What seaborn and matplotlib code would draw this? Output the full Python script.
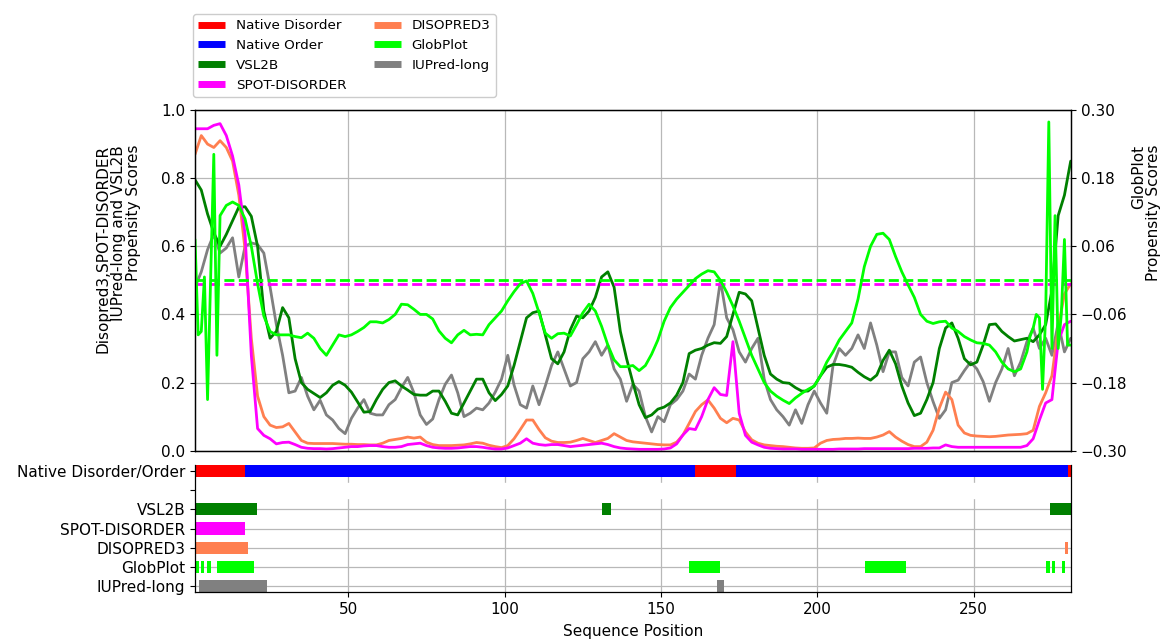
import matplotlib
matplotlib.use("Agg")
import matplotlib.pyplot as plt
from matplotlib.lines import Line2D
from matplotlib.ticker import FuncFormatter
import seaborn as sns

# ---------------- data ----------------
positions = list(range(1, 282, 2))

vsl2b = [
    .795, .765, .695, .64, .60, .635, .675, .715, .716, .688,
    .60, .41, .33, .35, .42, .39, .27, .20, .18, .168,
    .156, .17, .192, .203, .192, .172, .143, .113, .115, .15,
    .18, .20, .205, .19, .178, .165, .163, .163, .175, .175,
    .145, .11, .105, .14, .175, .21, .21, .17, .147, .165,
    .19, .25, .32, .39, .405, .41, .34, .27, .255, .29,
    .355, .395, .39, .41, .45, .51, .525, .48, .35, .27,
    .20, .135, .097, .105, .122, .128, .14, .163, .20, .285,
    .295, .30, .31, .317, .315, .335, .40, .465, .46, .44,
    .36, .28, .225, .21, .20, .198, .185, .175, .175, .19,
    .22, .245, .253, .253, .25, .245, .23, .217, .207, .222,
    .265, .295, .255, .19, .14, .103, .11, .15, .20, .30,
    .36, .375, .33, .27, .252, .26, .31, .37, .372, .35,
    .335, .322, .326, .33, .32, .34, .37, .47, .69, .75,
    .85]

spot_disorder = [
    .945, .945, .945, .955, .96, .925, .865, .78, .635, .28,
    .065, .045, .035, .02, .024, .025, .018, .01, .007, .006,
    .006, .005, .006, .008, .010, .012, .012, .014, .015, .015,
    .012, .010, .010, .012, .018, .02, .022, .015, .010, .008,
    .007, .007, .008, .010, .012, .012, .010, .007, .005, .005,
    .008, .015, .022, .035, .022, .018, .016, .018, .018, .015,
    .012, .014, .016, .018, .02, .022, .018, .012, .008, .006,
    .005, .004, .004, .004, .004, .005, .008, .02, .046, .065,
    .062, .10, .15, .185, .165, .162, .32, .11, .045, .025,
    .017, .01, .007, .006, .005, .005, .005, .004, .004, .004,
    .004, .004, .004, .005, .005, .005, .005, .006, .006, .006,
    .006, .006, .006, .006, .006, .007, .007, .007, .008, .008,
    .017, .012, .010, .010, .010, .010, .010, .010, .010, .010,
    .010, .010, .010, .015, .035, .09, .14, .15, .32, .37,
    .38]

disopred3 = [
    .87, .925, .90, .89, .91, .89, .85, .75, .59, .33,
    .16, .10, .075, .068, .07, .08, .055, .03, .022, .021,
    .021, .021, .021, .020, .019, .019, .018, .018, .017, .017,
    .022, .03, .033, .036, .04, .037, .04, .025, .018, .015,
    .015, .015, .016, .017, .02, .024, .022, .016, .012, .009,
    .015, .035, .062, .09, .09, .062, .038, .028, .024, .024,
    .025, .03, .036, .03, .024, .03, .036, .05, .04, .03,
    .026, .024, .022, .02, .018, .017, .017, .025, .046, .08,
    .115, .135, .149, .125, .095, .082, .095, .09, .055, .032,
    .022, .017, .015, .013, .012, .01, .008, .007, .007, .008,
    .022, .03, .033, .034, .036, .036, .037, .036, .036, .04,
    .046, .056, .04, .028, .018, .012, .012, .025, .06, .125,
    .172, .15, .075, .052, .045, .043, .042, .041, .042, .044,
    .046, .047, .048, .05, .06, .13, .17, .22, .36, .46,
    .49]

iupred_long = [
    .48, .525, .59, .635, .58, .595, .625, .51, .60, .61,
    .605, .58, .48, .37, .28, .17, .175, .215, .16, .12,
    .148, .105, .09, .065, .05, .095, .125, .15, .11, .105,
    .105, .135, .15, .185, .215, .17, .105, .077, .093, .15,
    .195, .222, .17, .10, .11, .125, .12, .14, .172, .21,
    .28, .193, .135, .125, .19, .135, .19, .25, .29, .24,
    .19, .20, .27, .29, .32, .28, .31, .24, .21, .145,
    .195, .175, .10, .055, .10, .085, .135, .15, .175, .225,
    .21, .28, .33, .37, .50, .39, .355, .29, .26, .30,
    .33, .21, .15, .12, .10, .075, .12, .08, .135, .175,
    .14, .11, .25, .30, .28, .30, .34, .30, .375, .31,
    .232, .29, .29, .215, .19, .26, .275, .20, .144, .095,
    .12, .20, .207, .235, .26, .24, .203, .145, .20, .24,
    .30, .22, .26, .32, .36, .30, .33, .28, .375, .29,
    .33]

globplot_pos = ([1, 2, 3, 4, 5, 6, 7, 8, 9]
                + list(range(11, 268, 2))
                + list(range(268, 282)))

globplot = [
    .072, -.096, -.09, .006, -.21, .006, .222, -.132, .114,
    .132, .138, .132, .108, .06, -.006, -.063, -.09, -.096, -.096,
    -.096, -.099, -.101, -.093, -.102, -.12, -.132, -.114, -.096, -.099,
    -.096, -.09, -.083, -.073, -.073, -.075, -.069, -.06, -.042, -.043,
    -.051, -.06, -.06, -.068, -.089, -.102, -.11, -.096, -.088, -.096,
    -.095, -.096, -.078, -.066, -.054, -.036, -.02, -.006, -.001, -.023,
    -.057, -.093, -.102, -.094, -.093, -.098, -.078, -.057, -.042, -.054,
    -.081, -.114, -.14, -.152, -.152, -.15, -.159, -.15, -.13, -.105,
    -.072, -.048, -.033, -.021, -.009, .003, .011, .017, .015, .0,
    -.021, -.045, -.072, -.102, -.132, -.156, -.18, -.195, -.204, -.211,
    -.217, -.207, -.199, -.192, -.186, -.168, -.144, -.126, -.105, -.09,
    -.075, -.033, .024, .06, .081, .083, .072, .042, .015, -.008,
    -.03, -.06, -.072, -.076, -.073, -.072, -.084, -.09, -.099, -.105,
    -.11, -.111, -.114, -.126, -.144, -.156, -.161, -.156, -.126,
    -.099, -.084, -.06, -.066, -.192, -.06, .279, -.12, .114, -.12, -.06, .072, -.114, -.114]

spot_threshold = 0.49
globplot_threshold = 0.0

# track regions (start, end) in sequence positions
native_disorder_regions = [(1, 17.1), (161, 174), (280, 281.2)]
native_order_regions = [(17.1, 161), (174, 280)]
vsl2b_regions = [(1, 20.9), (131, 134), (274.3, 281.2)]
spot_regions = [(1, 17.1)]
disopred3_regions = [(1, 17.9), (279.2, 280)]
globplot_regions = [(1, 2.2), (2.9, 4.0), (4.9, 6.1), (7.9, 20.0), (159, 169),
                    (215.1, 228.2), (273.2, 274.3), (275.0, 276.1), (278.2, 279.2)]
iupred_regions = [(2.3, 23.9), (168, 170.1)]

track_labels = ["IUPred-long", "GlobPlot", "DISOPRED3", "SPOT-DISORDER", "VSL2B", "",
                "Native Disorder/Order"]
x_ticks = [50, 100, 150, 200, 250]
left_ticks = [0.0, 0.2, 0.4, 0.6, 0.8, 1.0]
right_ticks = [-0.30, -0.18, -0.06, 0.06, 0.18, 0.30]

# ---------------- colours ----------------
C_DIS = "#ff0000"
C_ORD = "#0000ff"
C_VSL = "#008000"
C_SPOT = "#ff00ff"
C_DISO = "#ff7f50"
C_GLOB = "#00ff00"
C_IUP = "#808080"

sns.set_theme(style="ticks", rc={
    "axes.edgecolor": "black", "axes.labelcolor": "black", "text.color": "black",
    "xtick.color": "black", "ytick.color": "black",
    "xtick.major.size": 3.5, "ytick.major.size": 3.5,
    "xtick.major.width": 0.8, "ytick.major.width": 0.8,
    "axes.linewidth": 0.9,
})
plt.rcParams["font.family"] = ["DejaVu Sans"]

FS = 11
fig = plt.figure(figsize=(11.63, 6.40), dpi=100)
ax = fig.add_axes([0.1677, 0.2958, 0.7532, 0.5323])
axb = fig.add_axes([0.1677, 0.0748, 0.7532, 0.1988])

GRID = dict(color="#b8b8b8", linewidth=0.9)

# ---------------- main panel ----------------
ax.set_axisbelow(True)
ax.grid(True, **GRID)
sns.lineplot(x=positions, y=iupred_long, ax=ax, color=C_IUP, linewidth=2, legend=False)
sns.lineplot(x=positions, y=vsl2b, ax=ax, color=C_VSL, linewidth=2, legend=False)
sns.lineplot(x=positions, y=disopred3, ax=ax, color=C_DISO, linewidth=2, legend=False)
sns.lineplot(x=positions, y=spot_disorder, ax=ax, color=C_SPOT, linewidth=2, legend=False)
ax.axhline(spot_threshold, color=C_SPOT, linewidth=2, linestyle=(0, (3.6, 1.6)))
ax.set_xlim(1, 281.1)
ax.set_ylim(0, 1)
ax.set_xticks(x_ticks)
ax.set_yticks(left_ticks)
ax.tick_params(axis="x", labelbottom=False, length=0)
ax.tick_params(axis="y", labelsize=FS)
ax.set_ylabel("Disopred3,SPOT-DISORDER\nIUPred-long and VSL2B\nPropensity Scores",
              fontsize=FS, multialignment="right", linespacing=1.0)
ax.yaxis.set_label_coords(-0.062, 0.592)

ax2 = ax.twinx()
sns.lineplot(x=globplot_pos, y=globplot, ax=ax2, color=C_GLOB, linewidth=2, legend=False)
ax2.axhline(globplot_threshold, color=C_GLOB, linewidth=2, linestyle=(0, (3.6, 1.6)))
ax2.set_ylim(-0.3, 0.3)
ax2.set_yticks(right_ticks)
ax2.yaxis.set_major_formatter(FuncFormatter(lambda v, p: f"{v:.2f}".replace("-", "\u2212")))
ax2.tick_params(axis="y", labelsize=FS)
ax2.grid(False)
ax2.set_ylabel("GlobPlot\nPropensity Scores", fontsize=FS, multialignment="right",
               linespacing=1.0)
ax2.yaxis.set_label_coords(1.069, 0.698)
ax2.set_xlim(1, 281.1)

# ---------------- track panel ----------------
axb.set_axisbelow(True)
axb.grid(True, **GRID)
H = 0.64


def bars(regions, row, color):
    axb.broken_barh([(s, e - s) for s, e in regions], (row - H / 2, H),
                    facecolors=color, edgecolor="none", zorder=2)


axb.axhspan(4.6, 5.4, color="white", zorder=1)
bars(native_disorder_regions, 6, C_DIS)
bars(native_order_regions, 6, C_ORD)
bars(vsl2b_regions, 4, C_VSL)
bars(spot_regions, 3, C_SPOT)
bars(disopred3_regions, 2, C_DISO)
bars(globplot_regions, 1, C_GLOB)
bars(iupred_regions, 0, C_IUP)
axb.set_xlim(1, 281.1)
axb.set_ylim(-0.32, 6.32)
axb.set_yticks(range(len(track_labels)))
axb.set_yticklabels(track_labels)
axb.set_xticks(x_ticks)
axb.tick_params(labelsize=FS)
axb.spines["top"].set_visible(False)
axb.set_xlabel("Sequence Position", fontsize=FS, labelpad=5)

# ---------------- legend ----------------
handles = [
    Line2D([], [], color=C_DIS, linewidth=5, solid_capstyle="butt", label="Native Disorder"),
    Line2D([], [], color=C_ORD, linewidth=5, solid_capstyle="butt", label="Native Order"),
    Line2D([], [], color=C_VSL, linewidth=5, solid_capstyle="butt", label="VSL2B"),
    Line2D([], [], color=C_SPOT, linewidth=5, solid_capstyle="butt", label="SPOT-DISORDER"),
    Line2D([], [], color=C_DISO, linewidth=5, solid_capstyle="butt", label="DISOPRED3"),
    Line2D([], [], color=C_GLOB, linewidth=5, solid_capstyle="butt", label="GlobPlot"),
    Line2D([], [], color=C_IUP, linewidth=5, solid_capstyle="butt", label="IUPred-long"),
]
fig.legend(handles=handles, loc="upper left", bbox_to_anchor=(193 / 1163, 1 - 14 / 640),
           ncol=2, fontsize=9.7, frameon=True, borderaxespad=0, fancybox=True,
           edgecolor="#cccccc", framealpha=1)

fig.savefig("out.png", dpi=100)
